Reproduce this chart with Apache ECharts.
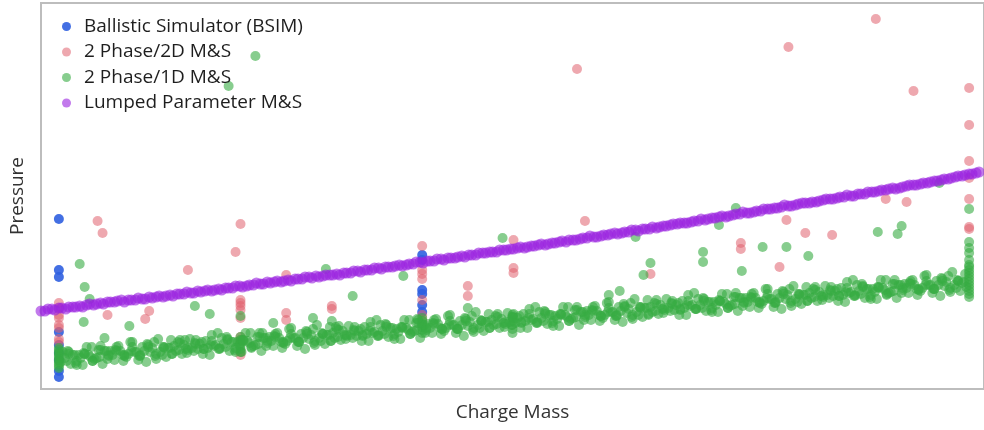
<!DOCTYPE html>
<html>
<head>
<meta charset="utf-8">
<title>Pressure vs Charge Mass</title>
<script src="https://cdn.jsdelivr.net/npm/echarts@6/dist/echarts.min.js"></script>
<style>
  html, body { margin: 0; padding: 0; background: #fff; }
  #chart { width: 984px; height: 430px; }
</style>
</head>
<body>
<div id="chart"></div>
<script>
// Series names, in legend order
const seriesNames = [
  'Ballistic Simulator (BSIM)',
  '2 Phase/2D M&S',
  '2 Phase/1D M&S',
  'Lumped Parameter M&S'
];

// Axis ranges (arbitrary units, no tick labels shown)
const massRange = [0, 950];
const pressureRange = [0, 386];

// [charge mass, pressure] pairs
const bsimPoints = [
  [18,170],[18,119],[18,112],[18,57],[18,44],[18,36],[18,29],[18,18],[18,12],
  [384,134],[384,129],[384,99],[384,95],[384,84],[384,77]
];

const phase2dPoints = [
  [57,168],[62,156],[201,165],[196,137],[148,119],[247,114],[109,78],[105,70],[67,74],
  [201,89],[201,86],[201,83],[201,79],[201,71],[201,52],[201,49],[201,37],[201,34],
  [247,76],[247,69],[293,83],[293,80],
  [18,86],[18,81],[18,74],[18,71],[18,64],[18,61],[18,50],[18,47],
  [384,143],[384,119],[384,115],[384,110],[384,89],[384,74],[384,69],
  [430,103],[430,93],[476,149],[476,121],[476,116],[548,168],[614,115],
  [705,146],[705,140],[751,169],[770,156],[744,122],[797,154],[851,190],[872,187],
  [935,301],[935,264],[935,228],[935,211],[935,190],[935,162],[935,160],
  [540,320],[753,342],[841,370],[879,298]
];

// Scattered 1D outliers
const phase1dScatter = [
  [216,333],[189,303],[39,125],[44,102],[49,90],[43,67],[64,51],[89,63],[155,83],[170,75],
  [201,73],[234,66],[223,56],[274,71],[293,68],[287,120],[314,93],[297,62],[145,49],
  [365,113],[465,151],[430,81],[379,70],[599,152],[614,126],[607,114],[572,94],[583,98],
  [667,137],[667,127],[683,164],[700,181],[706,118],[727,142],[751,142],[773,133],
  [843,157],[863,155],[867,163],[905,206],
  [935,180],[935,147],[935,141],[935,136],[935,129],[935,124]
];

// Main 1D band, outer spread
const phase1dBand = [
  [22,37],[26,28],[30,25],[34,34],[38,34],[42,24],[46,42],[50,32],[54,30],[58,39],
  [62,25],[66,38],[70,38],[74,29],[78,43],[82,34],[86,32],[90,47],[94,37],[98,29],
  [102,42],[106,27],[110,37],[114,47],[118,50],[122,34],[126,32],[130,41],[134,43],[138,47],
  [142,35],[146,40],[150,50],[154,38],[158,40],[162,47],[166,48],[170,34],[174,43],[178,56],
  [182,51],[186,42],[190,38],[194,47],[198,47],[202,37],[206,56],[210,46],[214,43],[218,52],
  [222,38],[226,51],[230,52],[234,43],[238,56],[242,47],[246,45],[250,60],[254,51],[258,43],
  [262,55],[266,40],[270,50],[274,60],[278,64],[282,48],[286,45],[290,54],[294,56],[298,60],
  [302,49],[306,54],[310,63],[314,51],[318,53],[322,60],[326,62],[330,48],[334,56],[338,69],
  [342,64],[346,55],[350,52],[354,61],[358,60],[362,50],[366,69],[370,59],[374,57],[378,66],
  [382,51],[386,64],[390,65],[394,56],[398,70],[402,61],[406,58],[410,73],[414,64],[418,56],
  [422,68],[426,53],[430,63],[434,73],[438,77],[442,61],[446,58],[450,67],[454,69],[458,73],
  [462,61],[466,66],[470,76],[474,64],[478,66],[482,73],[486,75],[490,61],[494,69],[498,82],
  [502,77],[506,68],[510,65],[514,74],[518,73],[522,63],[526,82],[530,72],[534,70],[538,79],
  [542,64],[546,77],[550,78],[554,69],[558,83],[562,74],[566,71],[570,86],[574,77],[578,69],
  [582,82],[586,67],[590,76],[594,86],[598,90],[602,74],[606,72],[610,81],[614,82],[618,86],
  [622,75],[626,80],[630,90],[634,78],[638,79],[642,86],[646,88],[650,74],[654,83],[658,96],
  [662,90],[666,81],[670,78],[674,87],[678,87],[682,77],[686,95],[690,85],[694,83],[698,92],
  [702,78],[706,91],[710,91],[714,82],[718,96],[722,87],[726,85],[730,100],[734,90],[738,82],
  [742,95],[746,80],[750,90],[754,100],[758,103],[762,87],[766,85],[770,94],[774,96],[778,100],
  [782,88],[786,93],[790,103],[794,91],[798,93],[802,100],[806,101],[810,87],[814,96],[818,109],
  [822,104],[826,95],[830,91],[834,100],[838,100],[842,90],[846,109],[850,99],[854,96],[858,105],
  [862,91],[866,104],[870,105],[874,96],[878,109],[882,100],[886,98],[890,113],[894,104],[898,96],
  [902,108],[906,93],[910,103],[914,113],[918,117],[922,101],[926,98],[930,107]
];

const phase1dBand2 = [
  [20,27],[27,38],[28,37],[35,26],[36,24],[43,36],[44,35],[51,42],[52,28],[59,32],
  [60,43],[67,30],[68,34],[75,39],[76,42],[83,28],[84,34],[91,38],[92,47],[99,33],
  [100,34],[107,45],[108,44],[115,33],[116,30],[123,42],[124,42],[131,49],[132,35],[139,39],
  [140,49],[147,36],[148,41],[155,46],[156,49],[163,35],[164,40],[171,44],[172,54],[179,40],
  [180,41],[187,52],[188,50],[195,39],[196,37],[203,49],[204,49],[211,56],[212,41],[219,45],
  [220,56],[227,43],[228,48],[235,53],[236,55],[243,41],[244,47],[251,51],[252,61],[259,47],
  [260,47],[267,58],[268,57],[275,46],[276,44],[283,56],[284,55],[291,62],[292,48],[299,52],
  [300,63],[307,50],[308,54],[315,59],[316,62],[323,48],[324,54],[331,58],[332,67],[339,53],
  [340,54],[347,65],[348,64],[355,53],[356,50],[363,62],[364,62],[371,69],[372,55],[379,59],
  [380,69],[387,56],[388,61],[395,66],[396,69],[403,55],[404,60],[411,64],[412,74],[419,60],
  [420,60],[427,71],[428,70],[435,59],[436,57],[443,69],[444,68],[451,75],[452,61],[459,65],
  [460,75],[467,62],[468,67],[475,72],[476,75],[483,61],[484,67],[491,71],[492,80],[499,66],
  [500,67],[507,78],[508,77],[515,66],[516,63],[523,75],[524,75],[531,82],[532,68],[539,72],
  [540,82],[547,69],[548,74],[555,79],[556,82],[563,68],[564,73],[571,77],[572,87],[579,73],
  [580,74],[587,85],[588,83],[595,72],[596,70],[603,82],[604,82],[611,89],[612,74],[619,78],
  [620,89],[627,76],[628,81],[635,86],[636,88],[643,74],[644,80],[651,84],[652,94],[659,80],
  [660,80],[667,91],[668,90],[675,79],[676,77],[683,89],[684,88],[691,95],[692,81],[699,85],
  [700,96],[707,83],[708,87],[715,92],[716,95],[723,81],[724,87],[731,91],[732,100],[739,86],
  [740,87],[747,98],[748,97],[755,86],[756,83],[763,95],[764,95],[771,102],[772,88],[779,92],
  [780,102],[787,89],[788,94],[795,99],[796,102],[803,88],[804,93],[811,97],[812,107],[819,93],
  [820,94],[827,105],[828,103],[835,92],[836,90],[843,102],[844,102],[851,109],[852,94],[859,98],
  [860,109],[867,96],[868,101],[875,106],[876,108],[883,94],[884,100],[891,104],[892,114],[899,100],
  [900,100],[907,111],[908,110],[915,99],[916,97],[923,109],[924,108],[931,115]
];

// Dense core of the 1D band
const phase1dCore = [
  [24,31],[32,34],[40,31],[48,34],[56,31],[64,38],[72,34],[80,38],[88,35],[96,37],
  [104,38],[112,41],[120,37],[128,41],[136,38],[144,44],[152,41],[160,45],[168,41],[176,44],
  [184,45],[192,47],[200,44],[208,48],[216,44],[224,51],[232,48],[240,51],[248,48],[256,51],
  [264,51],[272,54],[280,51],[288,54],[296,51],[304,58],[312,54],[320,58],[328,55],[336,57],
  [344,58],[352,61],[360,57],[368,61],[376,58],[384,64],[392,61],[400,65],[408,61],[416,64],
  [424,64],[432,67],[440,64],[448,67],[456,64],[464,70],[472,67],[480,71],[488,68],[496,70],
  [504,71],[512,74],[520,70],[528,74],[536,71],[544,77],[552,74],[560,78],[568,74],[576,77],
  [584,78],[592,80],[600,77],[608,81],[616,77],[624,84],[632,81],[640,84],[648,81],[656,84],
  [664,84],[672,87],[680,84],[688,87],[696,84],[704,91],[712,87],[720,91],[728,88],[736,90],
  [744,91],[752,94],[760,90],[768,94],[776,91],[784,97],[792,94],[800,98],[808,94],[816,97],
  [824,98],[832,100],[840,97],[848,101],[856,97],[864,104],[872,101],[880,104],[888,101],[896,104],
  [904,104],[912,107],[920,104],[928,106]
];

const phase1dCore2 = [
  [28,35],[36,28],[44,35],[52,28],[60,39],[68,33],[76,38],[84,33],[92,42],[100,33],
  [108,42],[116,35],[124,41],[132,35],[140,46],[148,39],[156,45],[164,40],[172,48],[180,40],
  [188,49],[196,41],[204,48],[212,42],[220,52],[228,46],[236,52],[244,46],[252,55],[260,47],
  [268,55],[276,48],[284,55],[292,48],[300,59],[308,53],[316,58],[324,53],[332,62],[340,53],
  [348,62],[356,55],[364,61],[372,55],[380,66],[388,59],[396,65],[404,60],[412,68],[420,60],
  [428,68],[436,61],[444,68],[452,61],[460,72],[468,65],[476,71],[484,66],[492,75],[500,66],
  [508,75],[516,68],[524,74],[532,68],[540,79],[548,72],[556,78],[564,73],[572,81],[580,73],
  [588,82],[596,74],[604,81],[612,75],[620,85],[628,79],[636,85],[644,79],[652,88],[660,80],
  [668,88],[676,81],[684,88],[692,81],[700,92],[708,86],[716,91],[724,86],[732,95],[740,86],
  [748,95],[756,88],[764,94],[772,88],[780,99],[788,92],[796,98],[804,93],[812,101],[820,93],
  [828,102],[836,94],[844,101],[852,95],[860,105],[868,99],[876,105],[884,99],[892,108],[900,100],
  [908,108],[916,101],[924,108],[932,102]
];

// Test-condition columns where many 1D runs stack up
const phase1dColumns = [
  [18,21],[18,23],[18,25],[18,27],[18,29],[18,31],[18,33],[18,35],[18,37],[18,39],[18,41],
  [201,37],[201,40],[201,43],[201,46],[201,49],[201,52],
  [384,56],[384,59],[384,62],[384,65],[384,68],[384,71],
  [475,56],[475,60],[475,64],[475,68],[475,72],[475,74],
  [935,92],[935,95],[935,98],[935,101],[935,104],[935,107],[935,110],[935,113],[935,116],[935,119],[935,122]
];

const lumpedPoints = [
  [0,78],[7,80],[14,79],[21,81],[28,82],[35,82],[42,82],[49,85],[56,85],[63,85],
  [70,87],[77,88],[84,87],[91,89],[98,91],[105,90],[112,91],[119,93],[126,93],[133,93],
  [140,95],[147,97],[154,96],[161,97],[168,99],[175,99],[182,99],[189,101],[196,103],[203,102],
  [210,104],[217,106],[224,105],[231,106],[238,108],[245,108],[252,108],[259,110],[266,112],[273,111],
  [280,112],[287,114],[294,114],[301,114],[308,116],[315,118],[322,117],[329,119],[336,121],[343,120],
  [350,122],[357,123],[364,123],[371,125],[378,127],[385,126],[392,128],[399,130],[406,129],[413,131],
  [420,132],[427,132],[434,134],[441,136],[448,136],[455,137],[462,139],[469,139],[476,140],[483,142],
  [490,142],[497,143],[504,145],[511,145],[518,146],[525,148],[532,149],[539,149],[546,151],[553,153],
  [560,152],[567,154],[574,155],[581,155],[588,157],[595,159],[602,158],[609,160],[616,162],[623,162],
  [630,163],[637,165],[644,166],[651,166],[658,168],[665,170],[672,170],[679,171],[686,173],[693,173],
  [700,175],[707,177],[714,176],[721,178],[728,180],[735,180],[742,181],[749,184],[756,183],[763,185],
  [770,186],[777,187],[784,188],[791,190],[798,190],[805,192],[812,194],[819,193],[826,195],[833,197],
  [840,197],[847,199],[854,200],[861,200],[868,202],[875,204],[882,204],[889,206],[896,207],[903,208],
  [910,210],[917,211],[924,213],[931,214],[938,215],[945,217]
];

const lumpedPoints2 = [
  [4,78],[11,80],[18,81],[25,80],[32,82],[39,83],[46,84],[53,84],[60,86],[67,87],
  [74,87],[81,89],[88,89],[95,89],[102,90],[109,92],[116,92],[123,92],[130,94],[137,95],
  [144,95],[151,96],[158,98],[165,98],[172,98],[179,100],[186,101],[193,101],[200,103],[207,103],
  [214,104],[221,105],[228,107],[235,107],[242,107],[249,109],[256,110],[263,110],[270,112],[277,113],
  [284,113],[291,114],[298,115],[305,116],[312,116],[319,118],[326,119],[333,119],[340,121],[347,122],
  [354,122],[361,124],[368,124],[375,125],[382,127],[389,128],[396,128],[403,130],[410,131],[417,131],
  [424,133],[431,134],[438,134],[445,136],[452,137],[459,137],[466,139],[473,140],[480,141],[487,141],
  [494,143],[501,144],[508,144],[515,146],[522,147],[529,147],[536,149],[543,150],[550,151],[557,152],
  [564,153],[571,154],[578,156],[585,156],[592,157],[599,159],[606,160],[613,160],[620,161],[627,163],
  [634,164],[641,165],[648,166],[655,167],[662,168],[669,169],[676,171],[683,172],[690,172],[697,174],
  [704,175],[711,176],[718,177],[725,178],[732,180],[739,181],[746,182],[753,183],[760,184],[767,186],
  [774,186],[781,187],[788,189],[795,190],[802,191],[809,192],[816,193],[823,195],[830,195],[837,197],
  [844,198],[851,199],[858,201],[865,201],[872,203],[879,204],[886,205],[893,206],[900,208],[907,209],
  [914,210],[921,212],[928,213],[935,215],[942,216]
];

const FONT = '"Open Sans", "Noto Sans", sans-serif';

const chart = echarts.init(document.getElementById('chart'), null, { renderer: 'canvas' });

function scatter(name, data, color, opacity, size) {
  return {
    name: name,
    type: 'scatter',
    data: data,
    symbol: 'circle',
    symbolSize: size,
    itemStyle: { color: color, opacity: opacity },
    emphasis: { disabled: true }
  };
}

chart.setOption({
  animation: false,
  backgroundColor: '#ffffff',
  grid: {
    left: 37, top: 3, right: -3, bottom: 41,
    show: true,
    borderColor: '#bdbdbd',
    borderWidth: 2,
    backgroundColor: 'transparent'
  },
  legend: {
    orient: 'vertical',
    left: 57,
    top: 12,
    itemWidth: 25,
    itemHeight: 9,
    itemGap: 6.5,
    icon: 'circle',
    data: seriesNames,
    textStyle: { fontFamily: FONT, fontSize: 19, color: '#1e1e1e', lineHeight: 19 }
  },
  xAxis: {
    type: 'value',
    min: massRange[0], max: massRange[1],
    name: 'Charge Mass',
    nameLocation: 'middle',
    nameGap: 14,
    nameTextStyle: { fontFamily: FONT, fontSize: 19, color: '#333' },
    axisLine: { show: false }, axisTick: { show: false },
    axisLabel: { show: false }, splitLine: { show: false }
  },
  yAxis: {
    type: 'value',
    min: pressureRange[0], max: pressureRange[1],
    name: 'Pressure',
    nameLocation: 'middle',
    nameGap: 14,
    nameTextStyle: { fontFamily: FONT, fontSize: 19, color: '#333' },
    axisLine: { show: false }, axisTick: { show: false },
    axisLabel: { show: false }, splitLine: { show: false }
  },
  series: [
    scatter(seriesNames[0], bsimPoints, '#2f5fe0', 0.9, 10),
    scatter(seriesNames[1], phase2dPoints, '#e0606e', 0.55, 10),
    scatter(seriesNames[2],
      phase1dColumns.concat(phase1dBand, phase1dBand2, phase1dCore, phase1dCore2, phase1dScatter),
      '#37ab43', 0.6, 10),
    scatter(seriesNames[3], lumpedPoints.concat(lumpedPoints2), '#9a22e0', 0.6, 11)
  ]
});
</script>
</body>
</html>
